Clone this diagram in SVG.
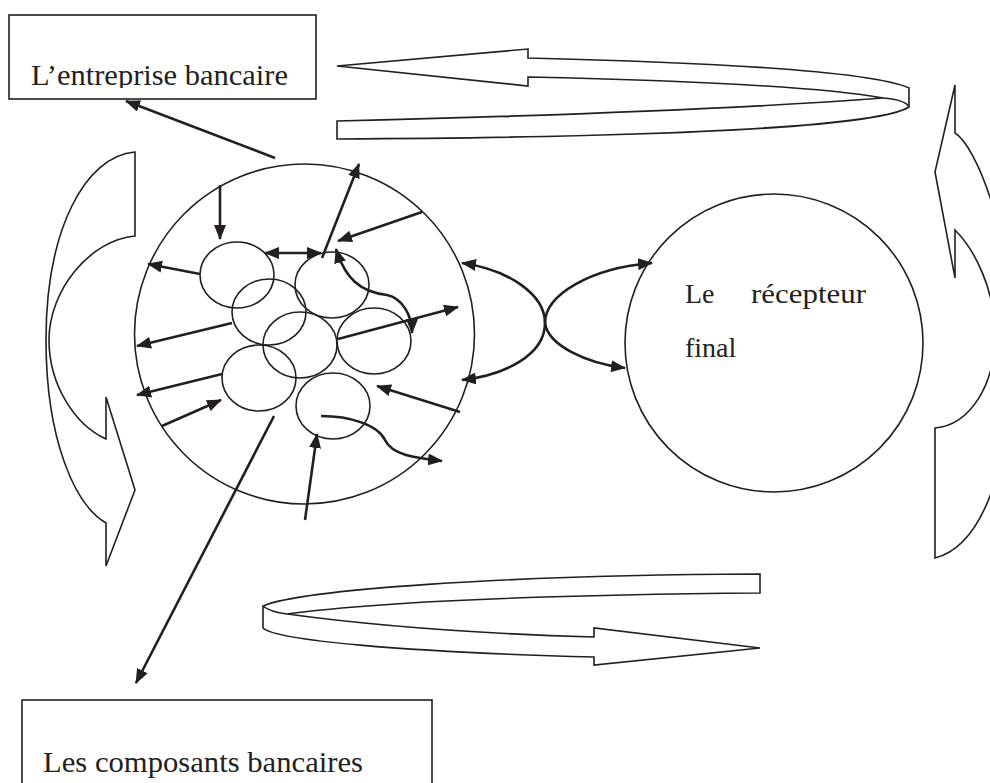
<svg xmlns="http://www.w3.org/2000/svg" width="990" height="783" viewBox="0 0 990 783">
<style>
.o{fill:none;stroke:#231f20;stroke-width:1.6;stroke-linejoin:miter}
.w{fill:#fff;stroke:#231f20;stroke-width:1.6}
.a{fill:none;stroke:#231f20;stroke-width:2.6}
.e{marker-end:url(#ah)}
.b{marker-start:url(#ah);marker-end:url(#ah)}
.t{font-family:"Liberation Serif","Times New Roman",serif;fill:#231f20}
</style>
<defs>
<marker id="ah" viewBox="0 0 15 12" refX="14" refY="6" markerWidth="15" markerHeight="12" markerUnits="userSpaceOnUse" orient="auto-start-reverse">
<path d="M0,0 L15,6 L0,12 z" fill="#231f20"/>
</marker>
<clipPath id="clipTop"><rect x="10" y="16" width="305" height="72"/></clipPath>
</defs>
<rect width="990" height="783" fill="#fff"/>

<g id="entreprise">
<rect class="o" x="9" y="15" width="307" height="84"/>
<text class="t" x="31" y="85" font-size="30" textLength="257" lengthAdjust="spacingAndGlyphs" clip-path="url(#clipTop)">L’entreprise bancaire</text>
</g>

<g id="composants">
<rect class="o" x="22" y="700" width="410" height="120"/>
<text class="t" x="43" y="772" font-size="30" textLength="320" lengthAdjust="spacingAndGlyphs">Les composants bancaires</text>
</g>

<g id="ribbon-top">
<path class="o" d="M337,66 L528,49 L528,58 Q860,66 909,88 L909,107 C880,125 700,137 337,139 L337,121 Q700,112 883,98 Q800,83 528,77 L528,86 Z"/>
<path class="o" d="M883,98 Q906,100 909,107"/>
</g>

<g id="ribbon-bottom">
<path class="o" d="M760,574 L760,593 Q420,596 287,614 Q420,632 594,637 L594,628 L760,648 L594,665 L594,657 C400,652 275,640 263,628 L263,606 C300,590 500,575 760,574 Z"/>
<path class="o" d="M263,606 Q270,612 287,614"/>
</g>

<g id="curve-left">
<path class="o" d="M135,152 L135,236 C90,240 49,290 49,340 C49,385 75,425 106,439 L106,397 L135,490 L106,566 L106,523 C75,505 46,440 46,340 C46,230 85,156 135,152 Z"/>
</g>

<g id="curve-right">
<path class="o" d="M955,85 L935,172 L955,278 L955,230 C975,250 995,290 995,335 C995,385 970,425 935,428 L935,558 C985,545 1012,460 1012,345 C1012,230 975,145 955,133 Z"/>
</g>

<g id="banque">
<circle class="o" cx="304.5" cy="334" r="170"/>
<g id="composants-internes">
<ellipse class="o" cx="237" cy="275" rx="37" ry="33"/>
<ellipse class="o" cx="269" cy="312" rx="37" ry="33"/>
<ellipse class="o" cx="332" cy="285" rx="37" ry="33"/>
<ellipse class="o" cx="300" cy="345" rx="37" ry="33"/>
<ellipse class="o" cx="374" cy="341" rx="37" ry="33"/>
<ellipse class="o" cx="259" cy="378" rx="37" ry="33"/>
<ellipse class="o" cx="333" cy="406" rx="37" ry="33"/>
</g>
</g>

<g id="recepteur">
<circle class="o" cx="774" cy="343" r="149"/>
<text class="t" x="685" y="303" font-size="28">Le</text>
<text class="t" x="751" y="303" font-size="28" textLength="115" lengthAdjust="spacingAndGlyphs">récepteur</text>
<text class="t" x="685" y="357" font-size="28">final</text>
</g>

<g id="connecteurs">
<path class="a e" d="M275,158 L126,101"/>
<path class="a e" d="M220,185 L220,239"/>
<path class="a b" d="M265,253 L321,253"/>
<path class="a e" d="M322,258 L359,164"/>
<path class="a e" d="M422,212 L338,241"/>
<path class="a e" d="M200,274 L148,264"/>
<path class="a e" d="M232,323 L137,346"/>
<path class="a e" d="M222,374 L137,395"/>
<path class="a e" d="M162,426 L221,400"/>
<path class="a e" d="M274,416 L136,683"/>
<path class="a e" d="M305,520 L317,434"/>
<path class="a e" d="M321,416 C350,416 378,425 385,440 C392,455 415,458 442,461"/>
<path class="a e" d="M460,412 L377,386"/>
<path class="a e" d="M338,339 L458,307"/>
<path class="a b" d="M336,249 C345,278 360,292 387,295 C402,298 412,315 412,333"/>
<path class="a b" d="M462,263 C510,270 545,295 545,323 C545,355 505,375 462,380"/>
<path class="a e" d="M545,323 C545,295 590,268 652,263"/>
<path class="a e" d="M545,323 C548,345 585,363 625,368"/>
</g>
</svg>
